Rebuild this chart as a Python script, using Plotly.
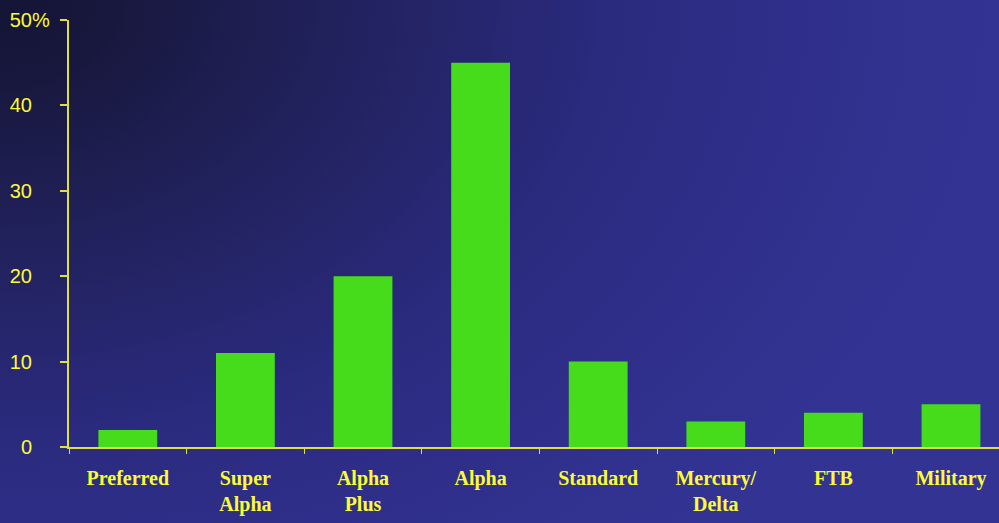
import base64
import plotly.graph_objects as go

# Share of policies by rate class (%)
categories = ["Preferred", "Super<br>Alpha", "Alpha<br>Plus", "Alpha",
              "Standard", "Mercury/<br>Delta", "FTB", "Military"]
shares = [2, 11, 20, 45, 10, 3, 4, 5]
y_ticks = [0, 10, 20, 30, 40, 50]
y_tick_text = ["0", "10", "20", "30", "40", "50"]

W, H = 999, 523
L, R, T, B = 69, 0, 20, 76
plot_w, plot_h = W - L - R, H - T - B

AXIS = "#dede48"
TEXT = "#fcfc34"
BAR = "#46dc1c"

# Dark navy fading to bright blue-violet away from the top-left corner
svg = f"""<svg xmlns='http://www.w3.org/2000/svg' width='{W}' height='{H}' viewBox='0 0 {W} {H}' preserveAspectRatio='none'>
<defs><radialGradient id='g' gradientUnits='userSpaceOnUse' cx='0' cy='0' r='1000' gradientTransform='scale(1,0.72)'>
<stop offset='0' stop-color='#141436'/>
<stop offset='0.12' stop-color='#18183f'/>
<stop offset='0.3' stop-color='#202058'/>
<stop offset='0.6' stop-color='#2a2a7e'/>
<stop offset='0.75' stop-color='#2e2e88'/>
<stop offset='1' stop-color='#333394'/>
</radialGradient></defs>
<rect width='{W}' height='{H}' fill='url(#g)'/></svg>"""
bg_uri = "data:image/svg+xml;base64," + base64.b64encode(svg.encode()).decode()

fig = go.Figure(go.Bar(
    x=categories, y=shares, width=0.5,
    marker=dict(color=BAR, line=dict(width=0)),
    hoverinfo="skip",
))

fig.add_layout_image(
    source=bg_uri, xref="paper", yref="paper",
    x=-L / plot_w, y=1 + T / plot_h,
    sizex=W / plot_w, sizey=H / plot_h,
    sizing="stretch", xanchor="left", yanchor="top", layer="below",
)

# percent sign trailing the top tick label
fig.add_annotation(
    text="%", xref="paper", yref="y", x=(30 - L) / plot_w, y=50,
    xanchor="left", yanchor="middle", showarrow=False,
    font=dict(family="Liberation Sans", size=20, color=TEXT),
)

fig.update_layout(
    width=W, height=H,
    margin=dict(l=L, r=R, t=T, b=B, pad=0),
    paper_bgcolor="#26266c", plot_bgcolor="rgba(0,0,0,0)",
    showlegend=False,
    bargap=0.5,
)

fig.update_xaxes(
    type="category", range=[-0.5, -0.5 + plot_w / 117.6],
    showline=True, linecolor=AXIS, linewidth=2,
    ticks="outside", tickson="boundaries", ticklen=5, tickwidth=1, tickcolor=AXIS,
    showgrid=False, zeroline=False,
    tickfont=dict(family="Liberation Serif", size=20, color=TEXT, weight="bold"),
    ticklabelstandoff=12,
)

fig.update_yaxes(
    range=[0, 50], tickvals=y_ticks, ticktext=y_tick_text,
    showline=True, linecolor=AXIS, linewidth=2,
    ticks="outside", ticklen=7, tickwidth=2, tickcolor=AXIS,
    showgrid=False, zeroline=False,
    tickfont=dict(family="Liberation Sans", size=20, color=TEXT),
    ticklabelstandoff=24,
)

fig.write_html("out.html")
